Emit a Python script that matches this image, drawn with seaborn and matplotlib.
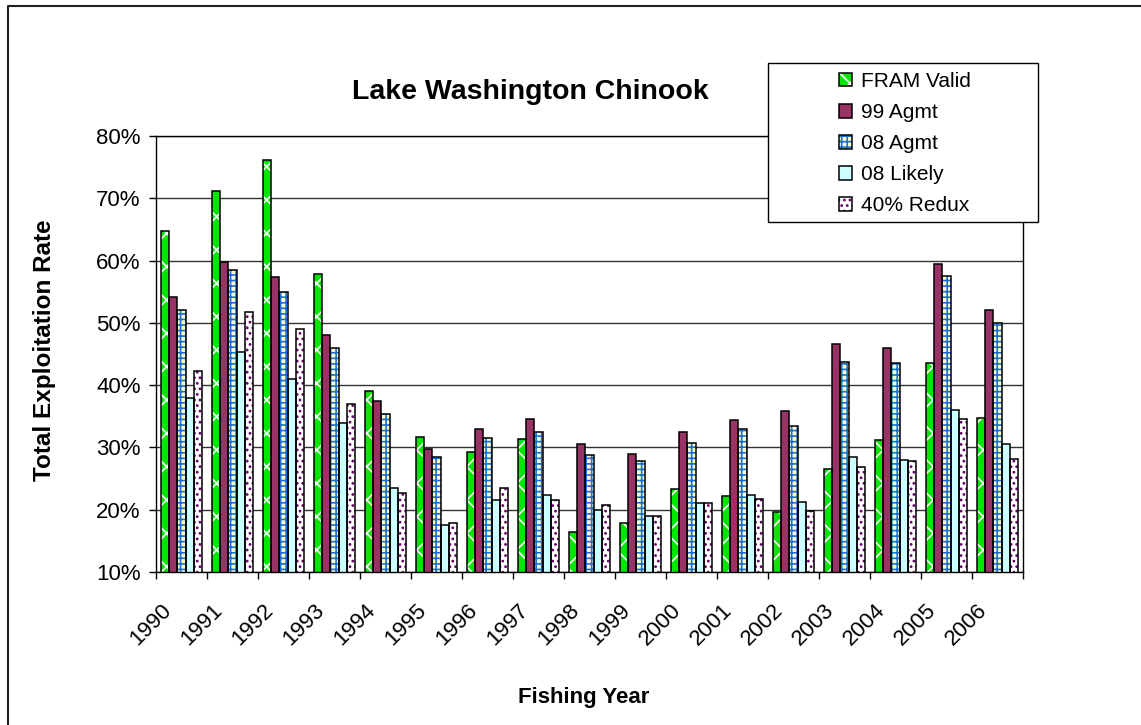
import numpy as np
import pandas as pd
import matplotlib
matplotlib.use('Agg')
import matplotlib.pyplot as plt
import seaborn as sns
from matplotlib.patches import Rectangle, Patch
from matplotlib.lines import Line2D
from matplotlib.transforms import ScaledTranslation
from matplotlib.ticker import FuncFormatter

# Data (total exploitation rate, %)
years = [str(y) for y in range(1990, 2007)]
series = ['FRAM Valid', '99 Agmt', '08 Agmt', '08 Likely', '40% Redux']
fram_valid = [64.8, 71.2, 76.1, 57.8, 39.0, 31.7, 29.2, 31.3, 16.4, 17.8, 23.4, 22.2, 19.7, 26.5, 31.2, 43.6, 34.8]
agmt_99 = [54.2, 59.8, 57.4, 48.0, 37.5, 29.8, 33.0, 34.6, 30.5, 29.0, 32.4, 34.4, 35.8, 46.6, 45.9, 59.5, 52.0]
agmt_08 = [52.0, 58.5, 54.9, 46.0, 35.3, 28.5, 31.5, 32.4, 28.8, 27.8, 30.7, 32.9, 33.5, 43.7, 43.5, 57.6, 50.0]
likely_08 = [38.0, 45.3, 41.0, 34.0, 23.5, 17.5, 21.5, 22.3, 20.0, 19.0, 21.0, 22.3, 21.2, 28.5, 28.0, 36.0, 30.5]
redux_40 = [42.3, 51.7, 49.0, 37.0, 22.7, 17.8, 23.5, 21.6, 20.7, 19.0, 21.1, 21.7, 19.8, 26.9, 27.8, 34.6, 28.2]

df = pd.DataFrame({
    'Year': years * 5,
    'Series': np.repeat(series, len(years)),
    'Rate': fram_valid + agmt_99 + agmt_08 + likely_08 + redux_40,
})

# fill colour, hatch, hatch colour for each series
fills = ['#00e600', '#993366', '#ffffcc', '#ccffff', '#ffffff']
hatches = ['x', '', '+++', '', '...']
hatch_cols = ['#ffffff', '#993366', '#1a6fd0', '#ccffff', '#660066']

sns.set_style('white')
plt.rcParams['font.family'] = ['Liberation Sans', 'DejaVu Sans']
plt.rcParams['hatch.linewidth'] = 1.2
for k in ['text.color', 'axes.labelcolor', 'xtick.color', 'ytick.color']:
    plt.rcParams[k] = 'black'

W, H = 1141, 725
fig = plt.figure(figsize=(W / 100, H / 100), dpi=100)
ax = fig.add_axes([156 / W, 1 - 572 / H, (1023 - 156) / W, (572 - 136) / H])

sns.barplot(data=df, x='Year', y='Rate', hue='Series', hue_order=series,
            palette=fills, saturation=1, width=0.8, ax=ax, legend=False)

# hatch + black outline on each bar
for container, h, hc in zip(ax.containers, hatches, hatch_cols):
    for bar in container:
        bar.set_hatch(h)
        bar.set_edgecolor(hc)
        bar.set_linewidth(0)
        ax.add_patch(Rectangle(bar.get_xy(), bar.get_width(), bar.get_height(),
                               fill=False, edgecolor='black', linewidth=1.1, zorder=3))

ax.set_ylim(10, 80)
ax.set_xlim(-0.5, len(years) - 0.5)
ax.set_yticks(np.arange(10, 81, 10))
ax.yaxis.set_major_formatter(FuncFormatter(lambda v, p: f'{v:.0f}%'))
ax.grid(axis='y', color='#333333', linewidth=1)
ax.set_axisbelow(True)
for s in ax.spines.values():
    s.set_color('black')
    s.set_linewidth(1)
ax.set_xlabel('')
ax.set_ylabel('')

ax.tick_params(axis='y', left=True, length=5, width=1, labelsize=16, pad=6)
ax.set_xticks(range(len(years)))
ax.set_xticklabels(years, rotation=45, ha='right', va='top')
ax.tick_params(axis='x', which='major', length=0, labelsize=16, pad=20)
ax.set_xticks(np.arange(-0.5, len(years)), minor=True)
ax.tick_params(axis='x', which='minor', bottom=True, length=5, width=1)
offset = ScaledTranslation(-0.06, 0, fig.dpi_scale_trans)
for lbl in ax.get_xticklabels():
    lbl.set_transform(lbl.get_transform() + offset)

# texts
fig.text(530 / W, 1 - 92 / H, 'Lake Washington Chinook', ha='center', va='center',
         fontsize=20.5, fontweight='bold')
fig.text(45 / W, 1 - 350 / H, 'Total Exploitation Rate', ha='center', va='center',
         rotation=90, fontsize=17.5, fontweight='bold')
fig.text(584 / W, 1 - 697 / H, 'Fishing Year', ha='center', va='center',
         fontsize=16, fontweight='bold')

# legend box + entries
fig.add_artist(Rectangle((768 / W, 1 - 222 / H), 270 / W, 159 / H, transform=fig.transFigure,
                         facecolor='white', edgecolor='black', linewidth=1, zorder=5))
handles = []
for f, h, hc in zip(fills, hatches, hatch_cols):
    handles.append((Patch(facecolor=f, hatch=h, edgecolor=hc, linewidth=0),
                    Patch(fill=False, edgecolor='black', linewidth=1.1)))
leg = fig.legend(handles, series, loc='upper left', bbox_to_anchor=(839 / W, 1 - 72 / H),
                 frameon=False, fontsize=15, borderpad=0, borderaxespad=0,
                 handlelength=0.62, handleheight=0.62, handletextpad=0.45, labelspacing=0.58)
leg.set_zorder(6)

# outer chart border
fig.add_artist(Line2D([8 / W, 8 / W, 1.0], [0, 1 - 6 / H, 1 - 6 / H], transform=fig.transFigure,
                      color='#222222', linewidth=1.5))

fig.savefig('out.png', dpi=100)
